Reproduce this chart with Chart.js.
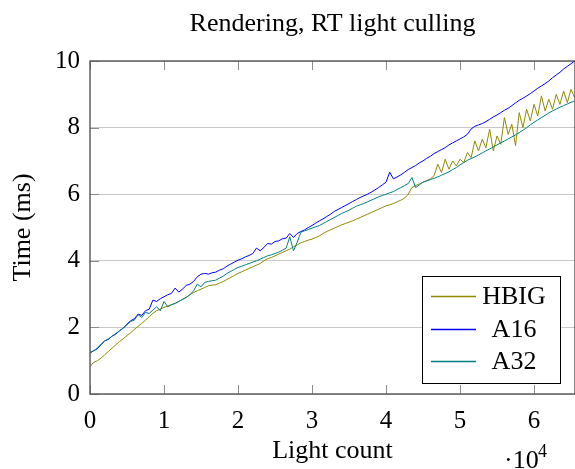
<!DOCTYPE html>
<html>
<head>
<meta charset="utf-8">
<script src="https://cdn.jsdelivr.net/npm/chart.js@4.4.1/dist/chart.umd.min.js"></script>
<style>
  html, body { margin: 0; padding: 0; background: #fff; }
  canvas { display: block; }
</style>
</head>
<body>
<canvas id="cullChart" width="575" height="469"></canvas>
<script>
// --- Data ---
const lightCount = [
    0, 500, 1000, 1500, 2000, 2500, 3000, 3500, 4000, 4500,
    5000, 5500, 6000, 6500, 7000, 7500, 8000, 8500, 9000, 9500,
    10000, 10500, 11000, 11500, 12000, 12500, 13000, 13500, 14000, 14500,
    15000, 15500, 16000, 16500, 17000, 17500, 18000, 18500, 19000, 19500,
    20000, 20500, 21000, 21500, 22000, 22500, 23000, 23500, 24000, 24500,
    25000, 25500, 26000, 26500, 27000, 27500, 28000, 28500, 29000, 29500,
    30000, 30500, 31000, 31500, 32000, 32500, 33000, 33500, 34000, 34500,
    35000, 35500, 36000, 36500, 37000, 37500, 38000, 38500, 39000, 39500,
    40000, 40500, 41000, 41500, 42000, 42500, 43000, 43500, 44000, 44500,
    45000, 45500, 46000, 46500, 47000, 47500, 48000, 48500, 49000, 49500,
    50000, 50500, 51000, 51500, 52000, 52500, 53000, 53500, 54000, 54500,
    55000, 55500, 56000, 56500, 57000, 57500, 58000, 58500, 59000, 59500,
    60000, 60500, 61000, 61500, 62000, 62500, 63000, 63500, 64000, 64500,
    65000, 65500
];

const hbigMs = [
    0.82, 0.95, 1.00, 1.08, 1.18, 1.28, 1.38, 1.48, 1.58, 1.66,
    1.76, 1.84, 1.94, 2.03, 2.12, 2.22, 2.32, 2.42, 2.50, 2.55,
    2.60, 2.64, 2.68, 2.72, 2.78, 2.84, 2.90, 2.98, 3.05, 3.10,
    3.15, 3.20, 3.25, 3.27, 3.28, 3.33, 3.38, 3.44, 3.50, 3.56,
    3.62, 3.67, 3.72, 3.77, 3.82, 3.87, 3.92, 4.00, 4.06, 4.10,
    4.15, 4.20, 4.25, 4.30, 4.35, 4.42, 4.48, 4.54, 4.58, 4.62,
    4.65, 4.70, 4.75, 4.82, 4.88, 4.93, 4.98, 5.03, 5.08, 5.12,
    5.16, 5.20, 5.25, 5.30, 5.35, 5.40, 5.45, 5.50, 5.55, 5.60,
    5.65, 5.68, 5.72, 5.77, 5.82, 5.88, 6.00, 6.20, 6.26, 6.31,
    6.36, 6.41, 6.46, 6.56, 6.90, 6.65, 7.05, 6.75, 7.00, 6.85,
    7.05, 6.95, 7.25, 7.10, 7.60, 7.30, 7.65, 7.40, 7.95, 7.30,
    7.75, 7.50, 8.30, 7.80, 8.10, 7.46, 8.45, 8.00, 8.55, 8.20,
    8.70, 8.35, 8.95, 8.50, 8.85, 8.55, 9.00, 8.70, 9.10, 8.75,
    9.15, 8.90
];

const a16Ms = [
    1.23, 1.30, 1.36, 1.48, 1.60, 1.64, 1.74, 1.80, 1.90, 1.98,
    2.10, 2.20, 2.26, 2.40, 2.36, 2.50, 2.55, 2.82, 2.78, 2.86,
    2.92, 2.98, 3.02, 3.18, 3.06, 3.15, 3.26, 3.30, 3.38, 3.52,
    3.60, 3.62, 3.60, 3.64, 3.66, 3.72, 3.76, 3.84, 3.90, 3.96,
    4.02, 4.06, 4.12, 4.16, 4.22, 4.38, 4.30, 4.40, 4.52, 4.50,
    4.58, 4.60, 4.66, 4.68, 4.82, 4.70, 4.82, 4.88, 4.93, 5.00,
    5.06, 5.13, 5.20, 5.26, 5.33, 5.40, 5.48, 5.54, 5.60, 5.66,
    5.72, 5.78, 5.84, 5.90, 5.95, 6.00, 6.06, 6.13, 6.20, 6.28,
    6.36, 6.66, 6.46, 6.52, 6.58, 6.66, 6.74, 6.80, 6.86, 6.94,
    7.00, 7.08, 7.14, 7.22, 7.28, 7.34, 7.40, 7.48, 7.54, 7.60,
    7.66, 7.72, 7.80, 7.96, 8.04, 8.08, 8.12, 8.18, 8.25, 8.32,
    8.38, 8.45, 8.52, 8.58, 8.66, 8.74, 8.82, 8.88, 8.95, 9.02,
    9.10, 9.18, 9.25, 9.32, 9.40, 9.50, 9.58, 9.66, 9.76, 9.84,
    9.92, 10.0
];

const a32Ms = [
    1.25, 1.30, 1.38, 1.50, 1.60, 1.66, 1.74, 1.82, 1.90, 1.98,
    2.08, 2.18, 2.22, 2.38, 2.30, 2.45, 2.42, 2.52, 2.62, 2.50,
    2.78, 2.62, 2.68, 2.72, 2.78, 2.84, 2.90, 2.98, 3.10, 3.30,
    3.22, 3.35, 3.38, 3.40, 3.42, 3.48, 3.54, 3.62, 3.68, 3.74,
    3.80, 3.84, 3.88, 3.92, 3.96, 4.00, 4.05, 4.10, 4.15, 4.18,
    4.22, 4.26, 4.32, 4.38, 4.72, 4.30, 4.56, 4.86, 4.90, 4.94,
    4.98, 5.02, 5.06, 5.12, 5.18, 5.24, 5.30, 5.36, 5.42, 5.47,
    5.52, 5.58, 5.64, 5.68, 5.72, 5.77, 5.82, 5.87, 5.92, 5.96,
    6.00, 6.04, 6.08, 6.14, 6.20, 6.26, 6.32, 6.50, 6.20, 6.28,
    6.36, 6.40, 6.44, 6.48, 6.52, 6.57, 6.62, 6.67, 6.74, 6.80,
    6.88, 6.95, 7.02, 7.07, 7.12, 7.18, 7.24, 7.30, 7.36, 7.42,
    7.48, 7.54, 7.60, 7.66, 7.72, 7.78, 7.85, 7.92, 8.00, 8.08,
    8.16, 8.23, 8.30, 8.37, 8.44, 8.50, 8.56, 8.61, 8.66, 8.71,
    8.76, 8.80
];

const xTickValues = [0, 10000, 20000, 30000, 40000, 50000, 60000];
const yTickValues = [0, 2, 4, 6, 8, 10];

const SERIF = '"Liberation Serif", "Times New Roman", serif';

// --- Frame, tick marks, legend box and labels (pgfplots look) ---
const decorPlugin = {
    id: 'decor',
    afterDatasetsDraw(chart) {
        const { ctx, chartArea: a, scales: { x, y } } = chart;
        ctx.save();

        // inner tick marks
        ctx.strokeStyle = '#8c8c8c';
        ctx.lineWidth = 1;
        xTickValues.forEach(v => {
            const px = Math.round(x.getPixelForValue(v)) + 0.5;
            ctx.beginPath();
            ctx.moveTo(px, a.bottom); ctx.lineTo(px, a.bottom - 9);
            ctx.moveTo(px, a.top); ctx.lineTo(px, a.top + 9);
            ctx.stroke();
        });
        yTickValues.forEach(v => {
            const py = Math.round(y.getPixelForValue(v)) + 0.5;
            ctx.beginPath();
            ctx.moveTo(a.left, py); ctx.lineTo(a.left + 9, py);
            ctx.stroke();
        });

        // axis frame
        ctx.strokeStyle = '#555';
        ctx.lineWidth = 1.4;
        ctx.strokeRect(a.left, a.top, a.right - a.left, a.bottom - a.top);

        // legend
        const lx = 422.5, ly = 276.5, lw = 138, lh = 107;
        ctx.fillStyle = '#fff';
        ctx.fillRect(lx, ly, lw, lh);
        ctx.strokeStyle = '#000';
        ctx.lineWidth = 1;
        ctx.strokeRect(lx, ly, lw, lh);
        const rows = [296, 329, 361];
        ctx.font = '26px ' + SERIF;
        ctx.textAlign = 'center';
        ctx.textBaseline = 'middle';
        chart.data.datasets.forEach((ds, i) => {
            ctx.strokeStyle = ds.borderColor;
            ctx.lineWidth = 1.5;
            ctx.beginPath();
            ctx.moveTo(431, rows[i] + 0.5);
            ctx.lineTo(476, rows[i] + 0.5);
            ctx.stroke();
            ctx.fillStyle = '#000';
            ctx.fillText(ds.label, 514, rows[i] + 1);
        });

        // title and axis labels
        ctx.fillStyle = '#000';
        ctx.textAlign = 'center';
        ctx.textBaseline = 'alphabetic';
        ctx.font = '26px ' + SERIF;
        ctx.fillText('Rendering, RT light culling', (a.left + a.right) / 2, 31);
        ctx.fillText('Light count', (a.left + a.right) / 2, 458);

        ctx.save();
        ctx.translate(23, (a.top + a.bottom) / 2);
        ctx.rotate(-Math.PI / 2);
        ctx.textBaseline = 'middle';
        ctx.fillText('Time (ms)', 0, 0);
        ctx.restore();

        ctx.textAlign = 'left';
        ctx.fillText('\u00b710', 504, 468);
        ctx.font = '18px ' + SERIF;
        ctx.fillText('4', 538, 457);

        ctx.restore();
    }
};

const toPoints = ys => lightCount.map((x, i) => ({ x: x, y: ys[i] }));

const ctx = document.getElementById('cullChart').getContext('2d');
const cullChart = new Chart(ctx, {
    type: 'line',
    data: {
        datasets: [
            { label: 'HBIG', data: toPoints(hbigMs), borderColor: '#8f8a00', order: 2 },
            { label: 'A16', data: toPoints(a16Ms), borderColor: '#0000ff', order: 1 },
            { label: 'A32', data: toPoints(a32Ms), borderColor: '#008080', order: 0 }
        ]
    },
    options: {
        responsive: false,
        devicePixelRatio: 1,
        animation: false,
        elements: {
            line: { borderWidth: 1, tension: 0, fill: false },
            point: { radius: 0, hoverRadius: 0 }
        },
        layout: { padding: { top: 61, left: 0, right: 0, bottom: 0 } },
        plugins: {
            legend: { display: false },
            title: { display: false },
            tooltip: { enabled: false }
        },
        scales: {
            x: {
                type: 'linear',
                min: 0,
                max: 65536,
                afterBuildTicks: s => { s.ticks = xTickValues.map(v => ({ value: v })); },
                afterFit: s => { s.height = 75; },
                grid: { display: false },
                border: { display: false },
                ticks: {
                    padding: 4,
                    maxRotation: 0,
                    autoSkip: false,
                    color: '#000',
                    font: { family: SERIF, size: 25 },
                    callback: v => v / 10000
                }
            },
            y: {
                min: 0,
                max: 10,
                afterBuildTicks: s => { s.ticks = yTickValues.map(v => ({ value: v })); },
                afterFit: s => { s.width = 90; },
                grid: { color: '#c8c8c8', lineWidth: 1, drawTicks: false },
                border: { display: false },
                ticks: {
                    padding: 10,
                    color: '#000',
                    font: { family: SERIF, size: 25 }
                }
            }
        }
    },
    plugins: [decorPlugin]
});
</script>
</body>
</html>
